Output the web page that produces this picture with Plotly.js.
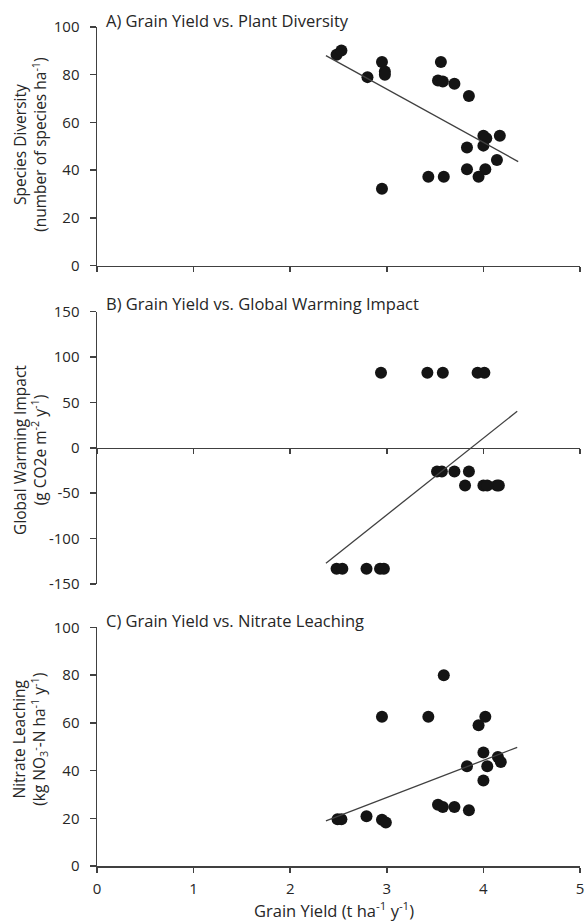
<!DOCTYPE html>
<html>
<head>
<meta charset="utf-8">
<script src="https://cdn.plot.ly/plotly-3.0.1.min.js"></script>
<style>html,body{margin:0;padding:0;background:#fff;}#chart{width:585px;height:922px;}</style>
</head>
<body>
<div id="chart"></div>
<script>
// Panel A: Grain yield vs. plant species diversity
const yieldA = [2.48, 2.53, 2.95, 2.80, 2.98, 2.98, 2.95, 3.56, 3.53, 3.58, 3.70, 3.85, 3.43, 3.59, 3.83, 4.00, 4.03, 4.17, 4.00, 4.14, 3.83, 4.02, 3.95];
const diversity = [88.4, 90.2, 85.3, 79.0, 81.4, 80.0, 32.2, 85.3, 77.6, 77.2, 76.2, 71.1, 37.3, 37.3, 49.5, 54.4, 53.4, 54.4, 50.3, 44.3, 40.4, 40.4, 37.3];
const trendAx = [2.37, 4.36];
const trendAy = [88.0, 43.6];

// Panel B: Grain yield vs. global warming impact
const yieldB = [2.94, 3.42, 3.58, 3.94, 4.01, 3.52, 3.57, 3.70, 3.85, 3.81, 4.00, 4.04, 4.14, 4.16, 2.48, 2.54, 2.79, 2.93, 2.97];
const gwi = [82.6, 82.6, 82.6, 82.6, 82.6, -26.1, -26.1, -26.1, -26.1, -41.5, -41.5, -41.5, -41.5, -41.5, -133.3, -133.3, -133.3, -133.3, -133.3];
const trendBx = [2.37, 4.35];
const trendBy = [-127.1, 40.3];

// Panel C: Grain yield vs. nitrate leaching
const yieldC = [2.49, 2.53, 2.79, 2.95, 2.99, 2.95, 3.43, 3.59, 3.53, 3.58, 3.70, 3.85, 3.95, 4.02, 3.83, 4.00, 4.04, 4.00, 4.15, 4.18];
const nitrate = [19.6, 19.6, 20.8, 19.4, 18.2, 62.5, 62.5, 79.9, 25.7, 24.7, 24.7, 23.4, 59.0, 62.5, 41.8, 47.6, 41.8, 35.8, 45.7, 43.6];
const trendCx = [2.37, 4.35];
const trendCy = [18.9, 49.7];

// Tick labels
const xTicks = [0, 1, 2, 3, 4, 5];
const pctTicks = [0, 20, 40, 60, 80, 100];
const gwiTicks = [-150, -100, -50, 0, 50, 100, 150];
const gwiTickText = ['-150', '-100', '-50', '0', '50', '100', '150'];

const titles = ['A) Grain Yield vs. Plant Diversity', 'B) Grain Yield vs. Global Warming Impact', 'C) Grain Yield vs. Nitrate Leaching'];
const yTitles = [
  'Species Diversity<br>(number of species ha<sup>-1</sup>)',
  'Global Warming Impact<br>(g CO2e m<sup>-2</sup> y<sup>-1</sup>)',
  'Nitrate Leaching<br>(kg NO<sub>3</sub><sup>-</sup>-N ha<sup>-1</sup> y<sup>-1</sup>)'
];
const xTitle = 'Grain Yield (t ha<sup>-1</sup> y<sup>-1</sup>)';

const FONT = 'Open Sans, sans-serif';
const TXT = '#262626';
const AX = '#404040';
const mk = {size: 12, color: '#141414'};
const ln = {color: '#404040', width: 1.3};

const traces = [
  {x: yieldA, y: diversity, mode: 'markers', marker: mk, xaxis: 'x', yaxis: 'y'},
  {x: trendAx, y: trendAy, mode: 'lines', line: ln, xaxis: 'x', yaxis: 'y'},
  {x: yieldB, y: gwi, mode: 'markers', marker: mk, xaxis: 'x2', yaxis: 'y2'},
  {x: trendBx, y: trendBy, mode: 'lines', line: ln, xaxis: 'x2', yaxis: 'y2'},
  {x: yieldC, y: nitrate, mode: 'markers', marker: mk, xaxis: 'x3', yaxis: 'y3'},
  {x: trendCx, y: trendCy, mode: 'lines', line: ln, xaxis: 'x3', yaxis: 'y3'}
];

function xax(extra) {
  return Object.assign({
    domain: [0, 1], range: [0, 5], tickvals: xTicks, showgrid: false, zeroline: false,
    showline: true, linecolor: AX, linewidth: 1.5, ticks: 'outside', ticklen: 5, tickwidth: 1.5, tickcolor: AX,
    showticklabels: false, fixedrange: true
  }, extra);
}
function yax(extra) {
  return Object.assign({
    showgrid: false, zeroline: false, showline: true, linecolor: AX, linewidth: 1.5,
    ticks: 'outside', ticklen: 6, tickwidth: 1.5, tickcolor: AX, ticklabelstandoff: 7,
    tickfont: {family: FONT, size: 15, color: TXT}, fixedrange: true
  }, extra);
}

const annots = [];
const titleY = [1.0072, 0.6710, 0.2926];
const yTitleY = [0.8594, 0.4958, 0.1514];
for (let i = 0; i < 3; i++) {
  annots.push({text: titles[i], xref: 'paper', yref: 'paper', x: 0.0145, y: titleY[i], xanchor: 'left', yanchor: 'middle', showarrow: false, font: {family: FONT, size: 16.5, color: TXT}});
  annots.push({text: yTitles[i], xref: 'paper', yref: 'paper', x: -0.139, y: yTitleY[i], xanchor: 'center', yanchor: 'middle', textangle: -90, showarrow: false, font: {family: FONT, size: 15.5, color: TXT}});
}
annots.push({text: xTitle, xref: 'paper', yref: 'paper', x: 0.491, y: -0.0525, xanchor: 'center', yanchor: 'middle', showarrow: false, font: {family: FONT, size: 16.5, color: TXT}});

const layout = {
  width: 585, height: 922,
  margin: {l: 97, r: 5, t: 27, b: 56},
  paper_bgcolor: '#fff', plot_bgcolor: '#fff',
  showlegend: false,
  font: {family: FONT, color: TXT},
  xaxis: xax({anchor: 'y'}),
  yaxis: yax({domain: [0.7155, 1], range: [0, 100], tickvals: pctTicks, anchor: 'x'}),
  xaxis2: xax({anchor: 'free', position: 0.4984}),
  yaxis2: yax({domain: [0.3361, 0.6607], range: [-150, 150], tickvals: gwiTicks, ticktext: gwiTickText, anchor: 'x2'}),
  xaxis3: xax({anchor: 'y3', showticklabels: true, ticklabelstandoff: 3, tickfont: {family: FONT, size: 15, color: TXT}}),
  yaxis3: yax({domain: [0, 0.2845], range: [0, 100], tickvals: pctTicks, anchor: 'x3'}),
  annotations: annots
};

Plotly.newPlot('chart', traces, layout, {displayModeBar: false, staticPlot: true});
</script>
</body>
</html>
